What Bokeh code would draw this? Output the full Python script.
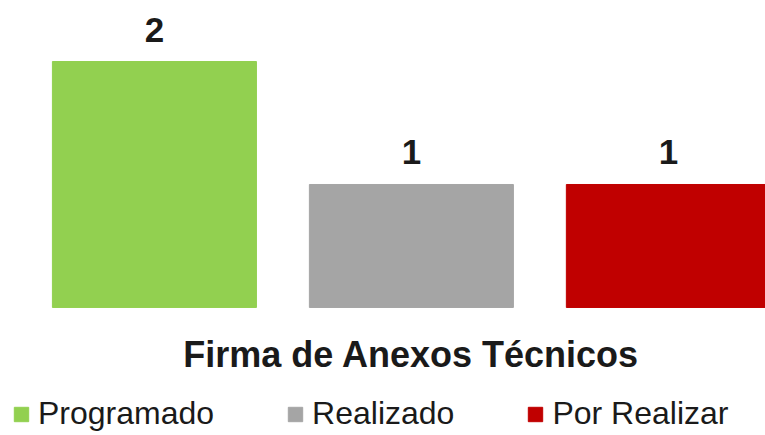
from bokeh.plotting import figure
from bokeh.models import (ColumnDataSource, Range1d, LabelSet, Label,
                          Legend, LegendItem)
from bokeh.core.properties import value
from bokeh.embed import file_html
from bokeh.resources import INLINE

category = "Firma de Anexos Técnicos"
series = ["Programado", "Realizado", "Por Realizar"]
values = [2, 1, 1]
colors = ["#92D050", "#A5A5A5", "#C00000"]

FONT = "Liberation Sans"
positions = list(range(len(series)))

src = ColumnDataSource(dict(x=positions, top=values, color=colors,
                            name=series, label=[str(v) for v in values]))

p = figure(width=765, height=435, output_backend="svg",
           toolbar_location=None, min_border=0,
           x_range=Range1d(-0.599, 2.378), y_range=Range1d(-1.041, 2.496))

r = p.vbar(x="x", top="top", bottom=0, width=0.794, color="color", source=src)

labels = LabelSet(x="x", y="top", text="label", source=src,
                  text_align="center", text_baseline="alphabetic", y_offset=20,
                  text_font=value(FONT), text_font_style="bold",
                  text_font_size="35px", text_color="#1a1a1a")
p.add_layout(labels)

# category label centred under the group of bars
cat_label = Label(x=sum(positions) / len(positions), y=81, y_units="screen",
                  text=category, text_align="center", text_baseline="alphabetic",
                  text_font=FONT, text_font_style="bold", text_font_size="36px",
                  text_color="#1a1a1a")
p.add_layout(cat_label)

p.xaxis.visible = False
p.yaxis.visible = False
p.xgrid.visible = False
p.ygrid.visible = False
p.outline_line_color = None

items = [LegendItem(label=series[i], renderers=[r], index=i) for i in positions]
legend = Legend(items=items, orientation="horizontal", location=(12, 3),
                label_text_font=FONT, label_text_font_size="32px",
                label_text_color="#1a1a1a", glyph_width=18, glyph_height=18,
                label_standoff=8, spacing=72, padding=0, margin=0,
                border_line_color=None, background_fill_alpha=0)
p.add_layout(legend, "center")

open("out.html", "w").write(file_html(p, INLINE))
